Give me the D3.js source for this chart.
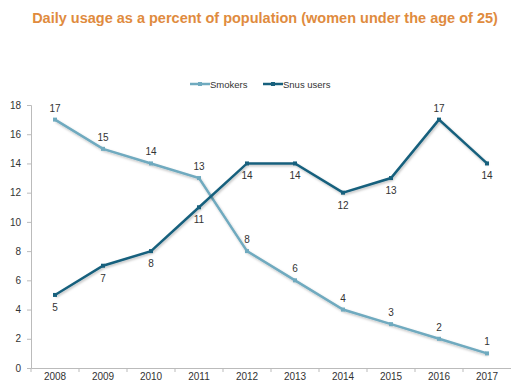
<!DOCTYPE html>
<html>
<head>
<meta charset="utf-8">
<script src="https://d3js.org/d3.v7.min.js"></script>
<style>
  body { margin: 0; background: #fff; }
  text { font-family: "Liberation Sans", Arial, sans-serif; }
</style>
</head>
<body>
<svg id="chart"></svg>
<script>
// chart data
var years = ["2008", "2009", "2010", "2011", "2012", "2013", "2014", "2015", "2016", "2017"];
var smokers = [17, 15, 14, 13, 8, 6, 4, 3, 2, 1];
var snus = [5, 7, 8, 11, 14, 14, 12, 13, 17, 14];
var yTicks = [0, 2, 4, 6, 8, 10, 12, 14, 16, 18];
// label above (-1) or below (1) the point
var snusLabelSide = [1, 1, 1, 1, 1, 1, 1, 1, -1, 1];

var W = 511, H = 383;
var svg = d3.select("#chart").attr("width", W).attr("height", H);

var x = d3.scaleBand().domain(years).range([31, 511]);
var y = d3.scaleLinear().domain([0, 18]).range([368, 105]);

// title
svg.append("text")
    .attr("x", 265).attr("y", 23)
    .attr("text-anchor", "middle")
    .attr("font-size", 14.5).attr("font-weight", "bold")
    .attr("fill", "#E08B3E")
    .text("Daily usage as a percent of population (women under the age of 25)");

// y axis
var ya = svg.append("g").attr("transform", "translate(31,0)")
    .call(d3.axisLeft(y).tickValues(yTicks).tickSize(4).tickPadding(6));
ya.select(".domain").attr("stroke", "#bbb");
ya.selectAll(".tick line").attr("stroke", "#bbb");
ya.selectAll("text").attr("font-size", 10).attr("fill", "#333")
    .attr("font-family", "Liberation Sans, Arial, sans-serif");

// x axis, ticks between categories
var xa = svg.append("g").attr("transform", "translate(0,368)")
    .call(d3.axisBottom(x).tickSize(0).tickPadding(5).tickSizeOuter(0));
xa.select(".domain").attr("stroke", "#bbb");
xa.selectAll("text").attr("font-size", 10).attr("fill", "#333")
    .attr("font-family", "Liberation Sans, Arial, sans-serif");
svg.append("g").selectAll("line")
    .data(years)
    .join("line")
    .attr("x1", function(d) { return x(d); })
    .attr("x2", function(d) { return x(d); })
    .attr("y1", 368).attr("y2", 372)
    .attr("stroke", "#bbb");

var cx = function(d, i) { return x(years[i]) + x.bandwidth() / 2; };

var defs = svg.append("defs");
var f = defs.append("filter").attr("id", "sh").attr("x", "-5%").attr("y", "-5%")
    .attr("width", "110%").attr("height", "120%");
f.append("feDropShadow").attr("dx", 1).attr("dy", 1.5).attr("stdDeviation", 1)
    .attr("flood-color", "#000").attr("flood-opacity", 0.25);

function drawSeries(vals, color, sides) {
    var line = d3.line()
        .x(function(d, i) { return cx(d, i); })
        .y(function(d) { return y(d); });
    svg.append("path")
        .datum(vals)
        .attr("d", line)
        .attr("fill", "none")
        .attr("stroke", color)
        .attr("stroke-width", 2.5)
        .attr("filter", "url(#sh)");
    svg.append("g").selectAll("rect")
        .data(vals)
        .join("rect")
        .attr("x", function(d, i) { return cx(d, i) - 2; })
        .attr("y", function(d) { return y(d) - 2; })
        .attr("width", 4).attr("height", 4)
        .attr("fill", color);
    svg.append("g").selectAll("text")
        .data(vals)
        .join("text")
        .attr("x", function(d, i) { return cx(d, i); })
        .attr("y", function(d, i) { return sides[i] < 0 ? y(d) - 8 : y(d) + 16; })
        .attr("text-anchor", "middle")
        .attr("font-size", 10).attr("fill", "#333")
        .text(function(d) { return d; });
}

drawSeries(smokers, "#6FAABF", smokers.map(function() { return -1; }));
drawSeries(snus, "#17607D", snusLabelSide);

// legend
var legend = [["Smokers", "#6FAABF", 190], ["Snus users", "#17607D", 263]];
legend.forEach(function(l) {
    svg.append("line").attr("x1", l[2]).attr("x2", l[2] + 20)
        .attr("y1", 84).attr("y2", 84)
        .attr("stroke", l[1]).attr("stroke-width", 2.5);
    svg.append("rect").attr("x", l[2] + 8).attr("y", 82).attr("width", 4).attr("height", 4)
        .attr("fill", l[1]);
    svg.append("text").attr("x", l[2] + 20).attr("y", 88)
        .attr("font-size", 9.5).attr("fill", "#333").text(l[0]);
});
</script>
</body>
</html>
